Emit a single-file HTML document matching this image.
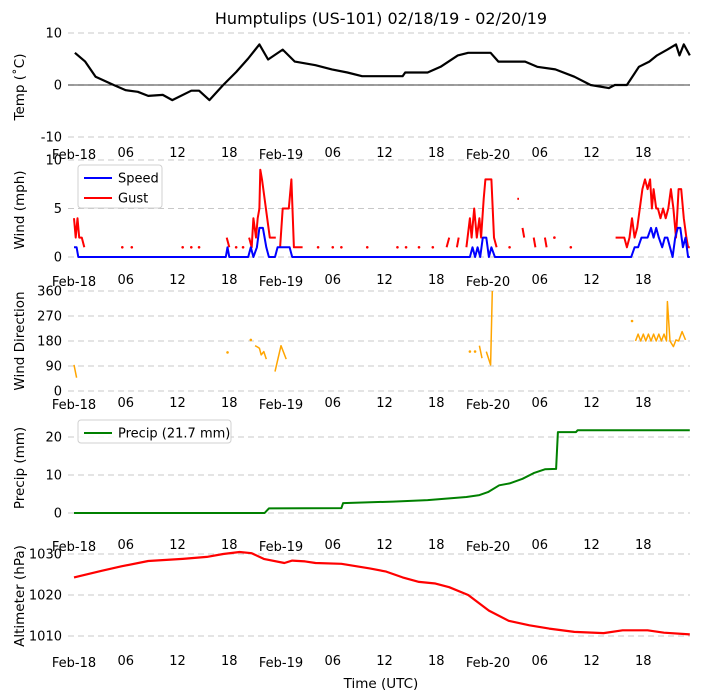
<!DOCTYPE html>
<html><head><meta charset="utf-8"><style>
body{margin:0;background:#fff;}
svg{display:block;font-family:"DejaVu Sans","Liberation Sans",sans-serif;}
</style></head><body>
<svg id="chart" width="704" height="700" viewBox="0 0 704 700" xmlns="http://www.w3.org/2000/svg">
<text x="381" y="24" font-size="16" text-anchor="middle" fill="#000">Humptulips (US-101) 02/18/19 - 02/20/19</text>
<text x="381" y="688" font-size="13.5" text-anchor="middle" fill="#000">Time (UTC)</text>
</svg>
<script>
// ---- data ----
var xTickHours = [0, 6, 12, 18, 24, 30, 36, 42, 48, 54, 60, 66];
var xTickLabels = ["Feb-18","06","12","18","Feb-19","06","12","18","Feb-20","06","12","18"];

var tempHours = [0.1,1.3,2.5,4.6,6,7.4,8.6,10.3,11.4,13.6,14.5,15.7,17.3,18.8,20.2,21.5,22.5,24.2,25.6,28,29.9,31.7,33.4,38.1,38.4,41,42.5,44.5,45.7,48.3,49.2,52.3,53.7,55.8,58,59.9,62,62.7,64.1,65.5,66.7,67.6,68.8,69.8,70.2,70.7,71.4];
var tempValues = [6.2,4.5,1.6,0,-1,-1.3,-2.1,-1.9,-2.9,-1.1,-1.1,-2.9,0,2.5,5.1,7.8,4.9,6.8,4.5,3.8,3,2.4,1.7,1.7,2.4,2.4,3.5,5.7,6.2,6.2,4.5,4.5,3.5,3,1.6,0,-0.6,0,0,3.5,4.5,5.7,6.8,7.8,5.7,7.8,5.7];

var speedHours = [0,0.3,0.5,17.6,17.8,18.0,20.2,20.5,20.8,21.2,21.5,21.9,22.3,22.6,23.3,23.6,25,25.3,45.9,46.2,46.5,46.8,47.1,47.4,47.8,48.1,48.4,48.8,64.6,65,65.4,65.8,66.2,66.5,66.9,67.2,67.5,67.8,68.2,68.5,68.8,69.1,69.4,69.7,70,70.3,70.6,70.9,71.2,71.4];
var speedValues = [1,1,0,0,1,0,0,1,0,1,3,3,1,0,0,1,1,0,0,1,0,1,0,2,2,0,1,0,0,1,1,2,2,2,3,2,3,2,1,2,2,1,0,2,3,3,1,2,0,0];

var gustHours = [0,0.2,0.4,0.6,0.9,1.2,null,5.6,null,6.7,null,12.6,null,13.6,null,14.5,null,17.7,18.0,null,18.8,null,19.6,null,20.3,20.6,20.8,21.1,21.3,21.5,21.6,21.8,22.1,22.4,22.7,23.0,23.4,null,23.9,24.2,24.6,24.9,25.2,25.5,25.8,26.0,26.5,null,28.3,null,30,null,31,null,34,null,37.5,null,38.5,null,40,null,41.6,null,43.2,43.5,null,44.4,44.6,null,45.5,45.9,46.1,46.4,46.7,47.0,47.2,47.5,47.7,48.0,48.4,48.7,49.0,null,50.5,null,51.4,51.6,null,52.0,52.2,null,53.3,53.5,null,54.6,54.8,null,55.7,null,57.6,null,62.8,63.3,63.8,64.1,64.4,64.7,65.0,65.3,65.6,65.9,66.2,66.5,66.8,67.0,67.2,67.5,67.7,68.0,68.3,68.6,68.9,69.2,69.5,69.8,70.1,70.4,70.7,71.0,71.2,71.4];
var gustValues = [4,2,4,2,2,1,null,1,null,1,null,1,null,1,null,1,null,2,1,null,1,null,1,null,2,1,4,2,4,5,9,8,6,4,2,2,2,null,1,5,5,5,8,1,1,1,1,null,1,null,1,null,1,null,1,null,1,null,1,null,1,null,1,null,1,2,null,1,2,null,1,4,2,5,2,4,2,6,8,8,8,2,1,null,1,null,6,6,null,3,2,null,2,1,null,2,1,null,2,null,1,null,2,2,2,1,2,4,2,3,5,7,8,7,8,5,7,5,5,4,5,4,5,7,5,2,7,7,4,2,1,1];

var dirHours = [0,0.3,null,17.8,null,20.5,null,21,21.3,21.5,21.7,22,22.3,null,23.3,24,24.6,null,45.9,null,46.5,null,47,47.3,null,47.8,48.3,48.5,null,64.7,null,65.1,65.4,65.7,66,66.3,66.6,66.9,67.2,67.5,67.8,68.1,68.4,68.7,68.8,69.1,69.5,69.8,70.1,70.5,70.9];
var dirValues = [94,48,null,139,null,184,null,163,158,154,130,142,115,null,70,163,115,null,142,null,142,null,163,118,null,142,94,360,null,252,null,180,205,180,205,180,205,180,205,180,205,180,205,180,322,180,160,184,180,214,184];

var precipHours = [0,22.1,22.6,31,31.2,37,41,45.5,47,48,49.3,50.5,52,53.3,54.6,55.9,56.1,58.2,58.4,71.4];
var precipValues = [0,0,1.2,1.3,2.6,3.0,3.4,4.2,4.7,5.5,7.3,7.8,9,10.5,11.5,11.6,21.3,21.3,21.8,21.8];

var altHours = [0,3.2,5.5,8.6,12.6,15.4,17.3,19.2,20.6,22,24.4,25.3,26.8,28,31,34.3,36.2,38.1,40,41.9,43.5,45.7,48.1,50.4,52.8,55.1,58,61.4,63.6,66.5,68.4,71.4];
var altValues = [1024.3,1025.9,1027,1028.3,1028.8,1029.3,1030,1030.5,1030.2,1028.8,1027.8,1028.4,1028.2,1027.8,1027.6,1026.5,1025.7,1024.3,1023.2,1022.8,1021.9,1020,1016.2,1013.7,1012.6,1011.8,1011,1010.7,1011.4,1011.4,1010.8,1010.4];

// ---- layout ----
var NS = "http://www.w3.org/2000/svg";
var svg = document.getElementById("chart");
function xScale(h){ return 74 + h * 207 / 24; }
function mk(tag, attrs, parent){
  var e = document.createElementNS(NS, tag);
  for (var k in attrs) e.setAttribute(k, attrs[k]);
  (parent || svg).appendChild(e);
  return e;
}
function linScale(v0, y0, v1, y1){ return function(v){ return y0 + (v - v0) * (y1 - y0) / (v1 - v0); }; }

function drawPanel(p){
  var g = mk("g", {});
  
  
  // gridlines + y tick labels
  p.yTicks.forEach(function(t){
    var y = p.y(t);
    var ln = mk("line", {x1: 68, x2: 690, y1: y, y2: y, stroke: "#c8c8c8", "stroke-width": 1, "stroke-dasharray": "6,4"}, g);
    
    
    var tx = mk("text", {x: 62, y: y + 4.5, "font-size": 13, "text-anchor": "end", fill: "#000"}, g);
    tx.textContent = t;
    
    
  });
  // x tick labels
  xTickHours.forEach(function(h, i){
    var isDay = xTickLabels[i].indexOf("Feb") === 0;
    var tx = mk("text", {x: xScale(h), y: p.xLabelY + (isDay ? 2 : 0), "font-size": 13, "text-anchor": "middle", fill: "#000"}, g);
    tx.textContent = xTickLabels[i];
    
    
  });
  // y title
  var yt = mk("text", {x: 0, y: 0, "font-size": 13.5, "text-anchor": "middle", fill: "#000", transform: "translate(" + 24 + "," + p.titleY + ") rotate(-90)"}, g);
  yt.textContent = p.title;
  
  
  return g;
}

function drawSeries(g, hours, vals, yf, color, width, name){
  var segs = [], cur = [];
  for (var i = 0; i < hours.length; i++){
    if (hours[i] === null || vals[i] === null){ if (cur.length) segs.push(cur); cur = []; continue; }
    cur.push([xScale(hours[i]), yf(vals[i])]);
  }
  if (cur.length) segs.push(cur);
  segs.forEach(function(s){
    if (s.length === 1){
      var c = mk("circle", {cx: s[0][0], cy: s[0][1], r: 1.3, fill: color}, g);
      
      
    } else {
      var pl = mk("polyline", {points: s.map(function(p){ return p[0].toFixed(1) + "," + p[1].toFixed(1); }).join(" "), fill: "none", stroke: color, "stroke-width": width, "stroke-linejoin": "round"}, g);
      
      
    }
  });
}

function legend(x, y, w, h, items){
  var g = mk("g", {});
  
  
  mk("rect", {x: x, y: y, width: w, height: h, rx: 3, fill: "#fff", "fill-opacity": 0.85, stroke: "#d0d0d0"}, g);
  items.forEach(function(it, i){
    var yy = y + 13 + i * 20;
    var ln = mk("line", {x1: x + 6, x2: x + 34, y1: yy, y2: yy, stroke: it.color, "stroke-width": 2}, g);
    
    
    var tx = mk("text", {x: x + 40, y: yy + 4.5, "font-size": 13, fill: "#000"}, g);
    tx.textContent = it.label;
    
    
  });
}

// Temp
var yT = linScale(0, 85, 10, 33);
var gT = drawPanel({name: "temp", y: yT, yTicks: [10, 0, -10], xLabelY: 157, title: "Temp (˚C)", titleY: 87});
mk("line", {x1: 68, x2: 690, y1: yT(0), y2: yT(0), stroke: "#000", "stroke-width": 0.8}, gT);
drawSeries(gT, tempHours, tempValues, yT, "#000", 2.2, "temp");

// Wind
var yW = linScale(0, 257, 10, 160);
var gW = drawPanel({name: "wind", y: yW, yTicks: [10, 5, 0], xLabelY: 284, title: "Wind (mph)", titleY: 210});
drawSeries(gW, gustHours, gustValues, yW, "#ff0000", 2, "gust");
drawSeries(gW, speedHours, speedValues, yW, "#0000ff", 2, "speed");
legend(78, 165, 84, 43, [{label: "Speed", color: "#0000ff"}, {label: "Gust", color: "#ff0000"}]);

// Direction
var yD = linScale(0, 391, 360, 291);
var gD = drawPanel({name: "direction", y: yD, yTicks: [360, 270, 180, 90, 0], xLabelY: 407, title: "Wind Direction", titleY: 341});
drawSeries(gD, dirHours, dirValues, yD, "#ffa500", 1.5, "direction");

// Precip
var yP = linScale(0, 513, 10, 475);
var gP = drawPanel({name: "precip", y: yP, yTicks: [20, 10, 0], xLabelY: 549, title: "Precip (mm)", titleY: 468});
drawSeries(gP, precipHours, precipValues, yP, "#008000", 2, "precip");
legend(78, 420, 153, 23, [{label: "Precip (21.7 mm)", color: "#008000"}]);

// Altimeter
var yA = linScale(1010, 636, 1030, 554);
var gA = drawPanel({name: "altimeter", y: yA, yTicks: [1030, 1020, 1010], xLabelY: 665, title: "Altimeter (hPa)", titleY: 596});
drawSeries(gA, altHours, altValues, yA, "#ff0000", 2.2, "altimeter");
</script>
</body></html>
